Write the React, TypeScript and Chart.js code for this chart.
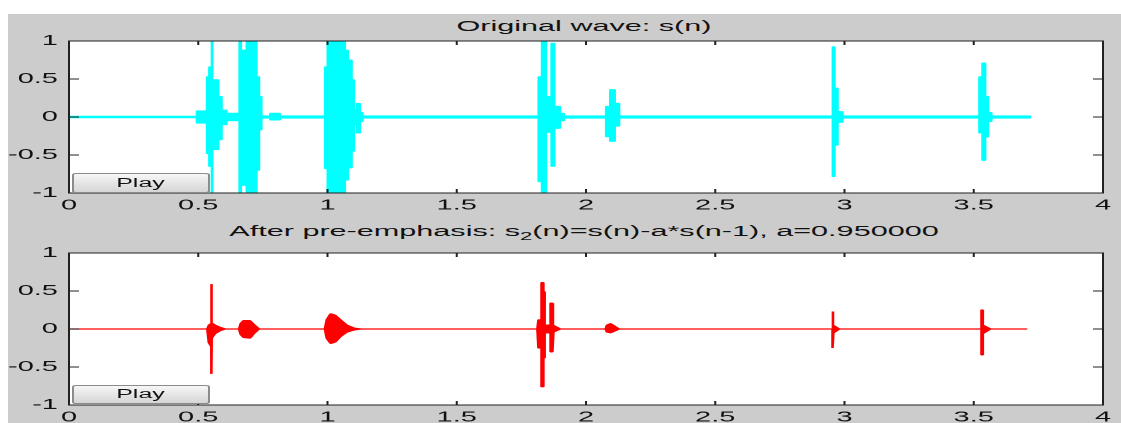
import React, { useEffect, useRef } from 'react';
import { Chart, registerables } from 'chart.js';

Chart.register(...registerables);

// ---------- data ----------
const xTickValues = [0, 0.5, 1, 1.5, 2, 2.5, 3, 3.5, 4];
const yTickValues = [-1, -0.5, 0, 0.5, 1];

const topTitle = 'Original wave: s(n)';
const bottomTitleA = 'After pre-emphasis: s';
const bottomTitleSub = '2';
const bottomTitleB = '(n)=s(n)-a*s(n-1), a=0.950000';
const buttonLabel = 'Play';

// Original wave envelope (stepped: each value holds until the next time)
const origTime = [0, 0.494, 0.533, 0.542, 0.552, 0.555, 0.578, 0.591, 0.61, 0.659, 0.666, 0.687, 0.726, 0.736, 0.745, 0.778, 0.816, 0.99, 1.0, 1.068, 1.08, 1.094, 1.103, 1.113, 1.126, 1.136, 1.816, 1.829, 1.846, 1.866, 1.878, 1.9, 1.915, 2.077, 2.093, 2.112, 2.129, 2.954, 2.962, 2.974, 2.993, 3.521, 3.533, 3.545, 3.556, 3.569, 3.718];
const origUpper = [0.01, 0.08, 0.53, 0.66, 1, 0.49, 0.27, 0.09, 0.05, 1, 0.88, 1, 0.53, 0.27, 0.015, 0.05, 0.015, 0.66, 1, 0.88, 0.75, 0.49, 0.1, 0.18, 0.06, 0.015, 0.53, 1, 0.27, 0.97, 0.14, 0.05, 0.015, 0.14, 0.36, 0.18, 0.015, 0.925, 0.38, 0.07, 0.015, 0.53, 0.71, 0.27, 0.06, 0.015, 0.015];
const origLower = [-0.01, -0.08, -0.48, -0.65, -1, -0.43, -0.3, -0.1, -0.05, -1, -0.9, -1, -0.7, -0.17, -0.015, -0.04, -0.015, -0.68, -1, -0.83, -0.67, -0.45, -0.1, -0.21, -0.06, -0.015, -0.85, -1, -0.2, -0.65, -0.15, -0.05, -0.015, -0.26, -0.32, -0.12, -0.015, -0.785, -0.37, -0.07, -0.015, -0.21, -0.57, -0.26, -0.06, -0.015, -0.015];

// Pre-emphasised wave envelope (linear between points)
const emphTime = [0, 0.535, 0.541, 0.55, 0.55, 0.552, 0.552, 0.565, 0.585, 0.605, 0.658, 0.664, 0.675, 0.7, 0.718, 0.735, 0.99, 0.997, 1.012, 1.03, 1.05, 1.075, 1.105, 1.13, 1.812, 1.816, 1.828, 1.828, 1.835, 1.835, 1.84, 1.84, 1.863, 1.863, 1.87, 1.87, 1.874, 1.9, 2.076, 2.081, 2.095, 2.128, 2.952, 2.952, 2.957, 2.957, 2.98, 3.53, 3.53, 3.535, 3.535, 3.565, 3.707];
const emphUpper = [0, 0, 0.05, 0.07, 0.59, 0.59, 0.08, 0.05, 0.02, 0, 0, 0.07, 0.11, 0.11, 0.05, 0, 0, 0.12, 0.2, 0.18, 0.12, 0.05, 0.01, 0, 0, 0.12, 0.12, 0.61, 0.61, 0.49, 0.49, 0.05, 0.05, 0.34, 0.34, 0.2, 0.05, 0, 0, 0.05, 0.07, 0, 0, 0.23, 0.23, 0.05, 0, 0, 0.25, 0.25, 0.05, 0, 0];
const emphLower = [0, 0, -0.18, -0.23, -0.59, -0.59, -0.12, -0.06, -0.02, 0, 0, -0.07, -0.11, -0.12, -0.05, 0, 0, -0.12, -0.19, -0.17, -0.1, -0.04, -0.01, 0, 0, -0.25, -0.25, -0.76, -0.76, -0.38, -0.38, -0.05, -0.05, -0.3, -0.3, -0.14, -0.04, 0, 0, -0.04, -0.05, 0, 0, -0.25, -0.25, -0.05, 0, 0, -0.34, -0.34, -0.06, 0, 0];

// ---------- styling ----------
const FONT = '"Liberation Sans", Arial, Helvetica, sans-serif';
const TEXT = '#111';
const SX = 2; // the whole figure is stretched horizontally like the reference

// build the point list the library needs: stepped series get explicit vertical edges
function toPoints(time: number[], vals: number[], stepped: boolean) {
  const pts: { x: number; y: number }[] = [];
  for (let i = 0; i < time.length; i++) {
    pts.push({ x: time[i], y: vals[i] });
    if (stepped && i < time.length - 1) pts.push({ x: time[i + 1], y: vals[i] });
  }
  return pts;
}

// closed outline: upper edge forward, lower edge back
function envelope(time: number[], upper: number[], lower: number[], stepped: boolean) {
  const up = toPoints(time, upper, stepped);
  const lo = toPoints(time, lower, stepped).reverse();
  return up.concat(lo);
}

const framePlugin = {
  id: 'matlabFrame',
  beforeDraw(chart: any) {
    const { ctx, chartArea: a } = chart;
    ctx.save();
    ctx.fillStyle = '#ffffff';
    ctx.fillRect(a.left, a.top, a.right - a.left, a.bottom - a.top);
    ctx.restore();
  },
  afterDraw(chart: any) {
    const { ctx, chartArea: a, scales } = chart;
    ctx.save();
    ctx.strokeStyle = '#202020';
    ctx.lineWidth = 1;
    ctx.strokeRect(a.left, a.top, a.right - a.left, a.bottom - a.top);
    ctx.beginPath();
    scales.x.ticks.forEach((t: any) => {
      const p = scales.x.getPixelForValue(t.value);
      ctx.moveTo(p, a.top);
      ctx.lineTo(p, a.top + 4);
      ctx.moveTo(p, a.bottom);
      ctx.lineTo(p, a.bottom - 4);
    });
    scales.y.ticks.forEach((t: any) => {
      const p = scales.y.getPixelForValue(t.value);
      ctx.moveTo(a.left, p);
      ctx.lineTo(a.left + 5, p);
      ctx.moveTo(a.right, p);
      ctx.lineTo(a.right - 5, p);
    });
    ctx.stroke();
    ctx.restore();
  },
};

type PanelProps = {
  top: number;
  height: number;
  padTop: number;
  axisH: number;
  time: number[];
  upper: number[];
  lower: number[];
  color: string;
  lineWidth: number;
  stepped: boolean;
};

function Panel(p: PanelProps) {
  const ref = useRef<HTMLCanvasElement | null>(null);
  useEffect(() => {
    if (!ref.current) return;
    const pts = envelope(p.time, p.upper, p.lower, p.stepped);
    const tickFont = { family: FONT, size: 14.5 };
    const chart = new Chart(ref.current, {
      type: 'line',
      data: {
        datasets: [
          {
            data: pts,
            borderColor: p.color,
            backgroundColor: p.color,
            borderWidth: p.lineWidth,
            borderJoinStyle: 'bevel',
            pointRadius: 0,
            fill: 'shape',
            tension: 0,
          },
        ],
      },
      options: {
        animation: false,
        responsive: false,
        maintainAspectRatio: false,
        devicePixelRatio: 2,
        events: [],
        layout: { padding: { top: p.padTop, right: 8.5, left: 0, bottom: 0 } },
        plugins: {
          legend: { display: false },
          tooltip: { enabled: false },
          title: { display: false },
        },
        scales: {
          x: {
            type: 'linear',
            min: 0,
            max: 4,
            grid: { display: false, drawTicks: false },
            border: { display: false },
            ticks: {
              padding: 4,
              color: TEXT,
              font: tickFont,
              maxRotation: 0,
              autoSkip: false,
              callback: (v: any) => String(v),
            },
            afterBuildTicks: (s: any) => {
              s.ticks = xTickValues.map((v) => ({ value: v }));
            },
            afterFit: (s: any) => {
              s.height = p.axisH;
            },
          },
          y: {
            type: 'linear',
            min: -1,
            max: 1,
            grid: { display: false, drawTicks: false },
            border: { display: false },
            ticks: {
              padding: 5.5,
              color: TEXT,
              font: tickFont,
              autoSkip: false,
              callback: (v: any) => String(v),
            },
            afterBuildTicks: (s: any) => {
              s.ticks = yTickValues.map((v) => ({ value: v }));
            },
            afterFit: (s: any) => {
              s.width = 34.5;
            },
          },
        },
      } as any,
      plugins: [framePlugin],
    });
    return () => chart.destroy();
  }, []);
  return (
    <canvas
      ref={ref}
      width={560}
      height={p.height}
      style={{ position: 'absolute', left: 0, top: p.top, width: 560, height: p.height }}
    />
  );
}

const buttonStyle = (top: number, h: number): React.CSSProperties => ({
  position: 'absolute',
  left: 36,
  top,
  width: 68.5,
  height: h,
  boxSizing: 'border-box',
  margin: 0,
  padding: 0,
  border: '1px solid #8c8c8c',
  borderRadius: 2,
  background: 'linear-gradient(#f7f7f7, #e2e2e2 60%, #d6d6d6)',
  font: `12.5px ${FONT}`,
  color: TEXT,
  lineHeight: `${h - 2}px`,
  textAlign: 'center',
});

const titleStyle = (top: number): React.CSSProperties => ({
  position: 'absolute',
  left: 0,
  top,
  width: 584,
  textAlign: 'center',
  font: `15.3px ${FONT}`,
  lineHeight: '17px',
  color: TEXT,
  whiteSpace: 'nowrap',
});

export default function App() {
  return (
    <div
      style={{
        position: 'absolute',
        left: 0,
        top: 0,
        width: 1121 / SX,
        height: 423,
        overflow: 'hidden',
        background: '#ffffff',
        transform: `scaleX(${SX})`,
        transformOrigin: '0 0',
      }}
    >
      <div style={{ position: 'absolute', left: 3.5, top: 14, width: 557, height: 409, background: '#cccccc' }} />
      <div style={titleStyle(17.3)}>{topTitle}</div>
      <div style={titleStyle(222.3)}>
        {bottomTitleA}
        <span style={{ fontSize: 11, position: 'relative', top: 4 }}>{bottomTitleSub}</span>
        {bottomTitleB}
      </div>
      <Panel
        top={14}
        height={200}
        padTop={27}
        axisH={21}
        time={origTime}
        upper={origUpper}
        lower={origLower}
        color="#00ffff"
        lineWidth={1}
        stepped={true}
      />
      <Panel
        top={223}
        height={200}
        padTop={30}
        axisH={18}
        time={emphTime}
        upper={emphUpper}
        lower={emphLower}
        color="#ff0000"
        lineWidth={1.3}
        stepped={false}
      />
      <button style={buttonStyle(173, 20)}>{buttonLabel}</button>
      <button style={buttonStyle(385, 18.5)}>{buttonLabel}</button>
    </div>
  );
}
